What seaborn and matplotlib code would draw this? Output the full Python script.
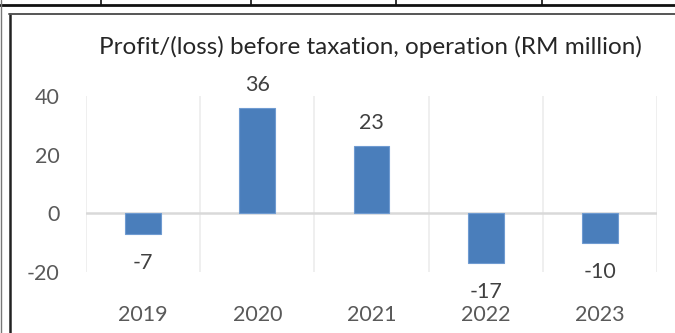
import matplotlib
matplotlib.use("Agg")
import matplotlib.pyplot as plt
from matplotlib.lines import Line2D
import seaborn as sns
import pandas as pd
import numpy as np

years = ["2019", "2020", "2021", "2022", "2023"]
values = [-7, 36, 23, -17, -10]
title = "Profit/(loss) before taxation, operation (RM million)"
yticks = [-20, 0, 20, 40]

sns.set_theme(style="white")
plt.rcParams["font.family"] = ["Lato", "DejaVu Sans"]

W, H = 675, 333
fig = plt.figure(figsize=(W / 100, H / 100), dpi=100)
ax = fig.add_axes([86 / W, (H - 272) / H, (657 - 86) / W, (272 - 96) / H])

df = pd.DataFrame({"year": years, "value": values})
sns.barplot(data=df, x="year", y="value", color="#4a7ebb", width=0.315,
            saturation=1, edgecolor="#6f9bd1", linewidth=0.8, ax=ax, zorder=3)

ax.set_ylim(-20, 40)
ax.set_xlim(-0.5, len(years) - 0.5)
ax.set_yticks(yticks)
ax.set_yticklabels([str(t) for t in yticks])
ax.set_xticks(range(len(years)))
ax.set_xticklabels(years)
ax.set_xticks(np.arange(-0.5, len(years)), minor=True)
ax.grid(False)
ax.grid(which="minor", axis="x", color="#ececec", lw=1.2, zorder=0)
ax.axhline(0, color="#d9d9d9", lw=1.8, zorder=2)
for s in ax.spines.values():
    s.set_visible(False)
ax.tick_params(axis="both", which="both", length=0)
ax.tick_params(axis="x", pad=24, labelsize=15.5, labelcolor="#595959")
ax.tick_params(axis="y", pad=19, labelsize=15.5, labelcolor="#595959")
ax.set_xlabel("")
ax.set_ylabel("")

for i, v in enumerate(values):
    off = 23 if v >= 0 else -29
    ax.annotate(str(v), (i, v), xytext=(0, off), textcoords="offset pixels",
                ha="center", va="center", fontsize=15.5, color="#404040")

fig.text(370 / W, 1 - 47 / H, title, ha="center", va="center",
         fontsize=17.5, color="#262626")

# surrounding frame lines from the source document
def px_line(x0, y0, x1, y1, color, lw):
    fig.add_artist(Line2D([x0 / W, x1 / W], [1 - y0 / H, 1 - y1 / H],
                          transform=fig.transFigure, color=color, lw=lw))

px_line(0, 5, W, 5, "#111111", 2.0)
for xv in [101, 251, 396, 542]:
    px_line(xv, 0, xv, 5, "#111111", 1.2)
px_line(0.7, 0, 0.7, H, "#777777", 1.0)
px_line(10, 13.5, 10, H, "#222222", 1.8)
px_line(9, 13.5, W, 13.5, "#555555", 1.4)

fig.savefig("out.png", dpi=100)
